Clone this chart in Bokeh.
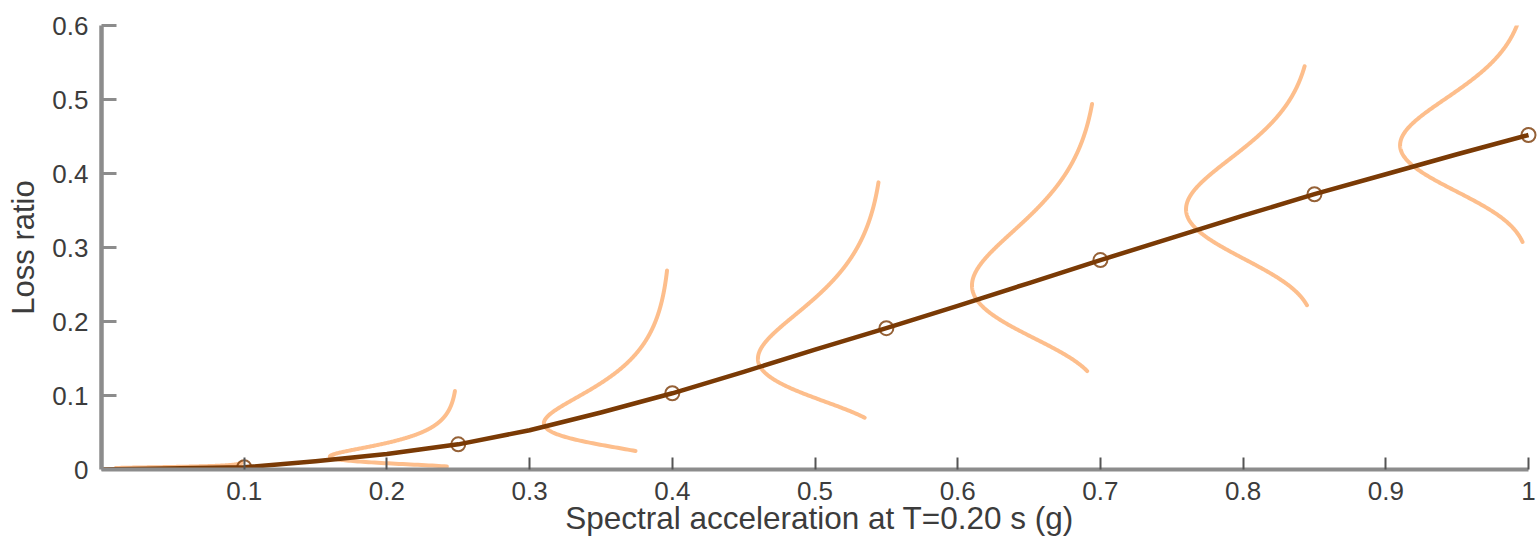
import math
import numpy as np
from bokeh.plotting import figure
from bokeh.models import Range1d, FixedTicker
from bokeh.embed import file_html
from bokeh.resources import INLINE

# ---------------- data ----------------
# intensity levels where the loss distributions are shown
sa_points = [0.1, 0.25, 0.4, 0.55, 0.7, 0.85, 1.0]
mean_loss = [0.003, 0.034, 0.103, 0.191, 0.283, 0.372, 0.452]
cov_loss = [0.6, 0.75, 0.63, 0.42, 0.30, 0.195, 0.144]
# vertical extent of each drawn (lognormal) loss distribution
pdf_low = [0.0003, 0.004, 0.025, 0.070, 0.133, 0.222, 0.3075]
pdf_high = [0.009, 0.106, 0.269, 0.388, 0.494, 0.545, 0.601]

# mean vulnerability curve
curve_sa = [0.0, 0.1, 0.15, 0.2, 0.25, 0.3, 0.35, 0.4, 0.45, 0.5, 0.55,
            0.6, 0.65, 0.7, 0.75, 0.8, 0.85, 0.9, 0.95, 1.0]
curve_loss = [0.0, 0.003, 0.011, 0.021, 0.034, 0.053, 0.077, 0.103, 0.132,
              0.162, 0.191, 0.221, 0.252, 0.283, 0.313, 0.343, 0.372, 0.399,
              0.426, 0.452]

x_ticks = [0.1, 0.2, 0.3, 0.4, 0.5, 0.6, 0.7, 0.8, 0.9, 1.0]
x_tick_labels = ["0.1", "0.2", "0.3", "0.4", "0.5", "0.6", "0.7", "0.8", "0.9", "1"]
y_ticks = [0.0, 0.1, 0.2, 0.3, 0.4, 0.5, 0.6]
y_tick_labels = ["0", "0.1", "0.2", "0.3", "0.4", "0.5", "0.6"]

x_label = "Spectral acceleration at T=0.20 s (g)"
y_label = "Loss ratio"

# ---------------- style ----------------
BROWN = "#7a3a05"
ORANGE = "#fdbe8c"
AXIS_GRAY = "#8c8c8c"
TEXT = "#3c3c3c"
FONT = "Liberation Sans"
PDF_WIDTH = 0.09   # horizontal size of the pdf peak in x units

p = figure(width=1537, height=538,
           x_range=Range1d(0, 1.0063), y_range=Range1d(0, 0.6),
           output_backend="svg", toolbar_location=None,
           min_border_left=101, min_border_right=0,
           min_border_top=25, min_border_bottom=66)
p.outline_line_color = None
p.grid.visible = False
p.background_fill_color = "white"
p.border_fill_color = "white"

# loss distributions drawn sideways
for sa, m, c, lo, hi in zip(sa_points, mean_loss, cov_loss, pdf_low, pdf_high):
    s2 = math.log(1.0 + c * c)
    s = math.sqrt(s2)
    mu = math.log(m) - s2 / 2.0
    y = np.linspace(lo, hi, 400)
    pdf = np.exp(-(np.log(y) - mu) ** 2 / (2 * s2)) / (y * s * math.sqrt(2 * math.pi))
    mode = math.exp(mu - s2)
    peak = math.exp(-(math.log(mode) - mu) ** 2 / (2 * s2)) / (mode * s * math.sqrt(2 * math.pi))
    x = sa - PDF_WIDTH * pdf / peak
    p.line(x, y, line_color=ORANGE, line_width=4, line_cap="round", line_join="round")

p.line(curve_sa, curve_loss, line_color=BROWN, line_width=4.5, line_join="round")
p.scatter(sa_points, mean_loss, marker="circle", size=14, fill_color=None,
          line_color=BROWN, line_width=2, line_alpha=0.8)

# axes
xa = p.xaxis[0]
xa.ticker = FixedTicker(ticks=x_ticks)
xa.major_label_overrides = {t: l for t, l in zip(x_ticks, x_tick_labels)}
xa.bounds = (0, 1)
xa.axis_line_color = AXIS_GRAY
xa.axis_line_width = 4
xa.major_tick_in = 12
xa.major_tick_out = 0
xa.major_tick_line_color = "#555555"
xa.major_tick_line_width = 2
xa.minor_tick_line_color = None
xa.major_label_text_font = FONT
xa.major_label_text_font_size = "26px"
xa.major_label_text_color = TEXT
xa.major_label_standoff = 12
xa.axis_label = x_label
xa.axis_label_text_font = FONT
xa.axis_label_text_font_size = "31.5px"
xa.axis_label_text_font_style = "normal"
xa.axis_label_text_color = TEXT
xa.axis_label_standoff = -3

ya = p.yaxis[0]
ya.ticker = FixedTicker(ticks=y_ticks)
ya.major_label_overrides = {t: l for t, l in zip(y_ticks, y_tick_labels)}
ya.bounds = (0, 0.6)
ya.axis_line_color = AXIS_GRAY
ya.axis_line_width = 4.5
ya.major_tick_in = 15
ya.major_tick_out = 0
ya.major_tick_line_color = AXIS_GRAY
ya.major_tick_line_width = 3
ya.minor_tick_line_color = None
ya.major_label_text_font = FONT
ya.major_label_text_font_size = "26px"
ya.major_label_text_color = TEXT
ya.major_label_standoff = 13
ya.axis_label = y_label
ya.axis_label_text_font = FONT
ya.axis_label_text_font_size = "31px"
ya.axis_label_text_font_style = "normal"
ya.axis_label_text_color = TEXT
ya.axis_label_standoff = 8

open("out.html", "w").write(file_html(p, INLINE))
